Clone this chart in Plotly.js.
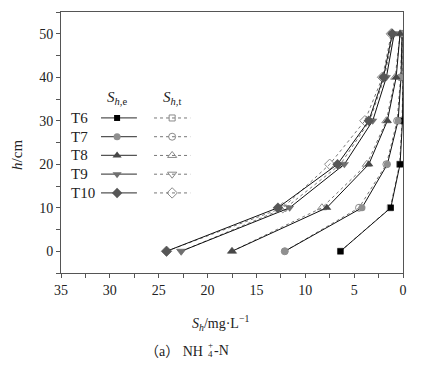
<!DOCTYPE html>
<html>
<head>
<meta charset="utf-8">
<script src="https://cdn.plot.ly/plotly-3.0.1.min.js"></script>
<style>html,body{margin:0;padding:0;background:#fff;}#chart{width:430px;height:373px;}</style>
</head>
<body>
<div id="chart"></div>
<script>
// ---- data ----
var depths = [0, 10, 20, 30, 40, 50];
var seriesNames = ["T6", "T7", "T8", "T9", "T10"];
var expT6  = [6.4, 1.25, 0.3, 0.05, 0.0, 0.0];
var expT7  = [12.1, 4.2, 1.6, 0.5, 0.2, 0.1];
var expT8  = [17.5, 7.8, 3.5, 1.6, 0.7, 0.3];
var expT9  = [22.7, 11.6, 6.0, 3.1, 1.7, 0.9];
var expT10 = [24.2, 12.8, 6.7, 3.5, 2.0, 1.1];
var theoT6  = [6.4, 1.3, 0.35, 0.1, 0.0, 0.0];
var theoT7  = [12.1, 4.5, 1.7, 0.6, 0.25, 0.1];
var theoT8  = [17.5, 8.3, 3.7, 1.7, 0.8, 0.3];
var theoT9  = [22.7, 12.0, 6.4, 3.4, 1.9, 1.0];
var theoT10 = [24.2, 12.3, 7.5, 3.9, 2.1, 1.2];
var xTickVals = [35, 30, 25, 20, 15, 10, 5, 0];
var yTickVals = [0, 10, 20, 30, 40, 50];

// ---- styles ----
var expData = [expT6, expT7, expT8, expT9, expT10];
var theoData = [theoT6, theoT7, theoT8, theoT9, theoT10];
var fillColors = ["#000000", "#8f8f8f", "#474747", "#6f6f6f", "#575757"];
var symFilled = ["square", "circle", "triangle-up", "triangle-down", "diamond"];
var symOpen = ["square-open", "circle-open", "triangle-up-open", "triangle-down-open", "diamond-open"];
var mSize = [6, 7, 8, 8, 8];
var FONT = '"Liberation Serif", "Times New Roman", Times, serif';

var traces = [];
for (var i = 0; i < seriesNames.length; i++) {
  traces.push({
    x: theoData[i], y: depths, type: "scatter", mode: "lines+markers",
    name: seriesNames[i] + " t", showlegend: false, hoverinfo: "skip",
    line: {color: "#777777", width: 1, dash: "dot"},
    marker: {symbol: symOpen[i], size: mSize[i], color: "#8a8a8a", line: {width: 1, color: "#8a8a8a"}}
  });
}
for (var i = 0; i < seriesNames.length; i++) {
  traces.push({
    x: expData[i], y: depths, type: "scatter", mode: "lines+markers",
    name: seriesNames[i], showlegend: false, hoverinfo: "skip",
    line: {color: "#111111", width: 1},
    marker: {symbol: symFilled[i], size: mSize[i], color: fillColors[i], line: {width: 0}}
  });
}

// ---- custom legend on helper axes (paper fraction coordinates) ----
var legE = [0.117, 0.164, 0.222];
var legT = [0.272, 0.325, 0.378];
var rowY = function (k) { return 0.594 - k * 0.0718; };
var annotations = [];
for (var k = 0; k < seriesNames.length; k++) {
  var yy = rowY(k);
  traces.push({
    x: [legE[0], legE[2]], y: [yy, yy], xaxis: "x2", yaxis: "y2", type: "scatter", mode: "lines",
    showlegend: false, hoverinfo: "skip", cliponaxis: false,
    line: {color: "#555555", width: 1.3}
  });
  traces.push({
    x: [legE[1]], y: [yy], xaxis: "x2", yaxis: "y2", type: "scatter", mode: "markers",
    showlegend: false, hoverinfo: "skip", cliponaxis: false,
    marker: {symbol: symFilled[k], size: mSize[k], color: fillColors[k], line: {width: 0}}
  });
  traces.push({
    x: [legT[0], legT[2]], y: [yy, yy], xaxis: "x2", yaxis: "y2", type: "scatter", mode: "lines",
    showlegend: false, hoverinfo: "skip", cliponaxis: false,
    line: {color: "#777777", width: 1, dash: "dot"}
  });
  traces.push({
    x: [legT[1]], y: [yy], xaxis: "x2", yaxis: "y2", type: "scatter", mode: "markers",
    showlegend: false, hoverinfo: "skip", cliponaxis: false,
    marker: {symbol: symOpen[k], size: mSize[k], color: "#8a8a8a", line: {width: 1, color: "#8a8a8a"}}
  });
  annotations.push({
    text: seriesNames[k], xref: "paper", yref: "paper", x: 0.024, y: yy,
    xanchor: "left", yanchor: "middle", showarrow: false,
    font: {family: FONT, size: 15, color: "#222"}
  });
}
annotations.push({
  text: "<i>S</i><sub><i>h</i>,e</sub>", xref: "paper", yref: "paper", x: legE[1], y: 0.672,
  xanchor: "center", yanchor: "middle", showarrow: false, font: {family: FONT, size: 15, color: "#222"}
});
annotations.push({
  text: "<i>S</i><sub><i>h</i>,t</sub>", xref: "paper", yref: "paper", x: legT[1], y: 0.672,
  xanchor: "center", yanchor: "middle", showarrow: false, font: {family: FONT, size: 15, color: "#222"}
});
// y-axis title
annotations.push({
  text: "<i>h</i>/cm", xref: "paper", yref: "paper", x: -0.129, y: 0.452, textangle: -90,
  xanchor: "center", yanchor: "middle", showarrow: false, font: {family: FONT, size: 15, color: "#222"}
});
// x-axis title
annotations.push({
  text: "<i>S</i><sub><i>h</i></sub>/mg·L<sup>−1</sup>", xref: "paper", yref: "paper", x: 0.465, y: -0.19,
  xanchor: "center", yanchor: "middle", showarrow: false, font: {family: FONT, size: 14, color: "#222"}
});
// caption
var CJK = '"Noto Sans CJK SC"';
annotations.push({
  text: '<span style="font-family:' + "'Noto Sans CJK SC'" + '">（</span>a<span style="font-family:' + "'Noto Sans CJK SC'" + '">）</span> NH',
  xref: "paper", yref: "paper", x: 0.422, y: -0.296,
  xanchor: "right", yanchor: "middle", showarrow: false, font: {family: FONT, size: 14, color: "#222"}
});
annotations.push({
  text: "+", xref: "paper", yref: "paper", x: 0.423, y: -0.275,
  xanchor: "left", yanchor: "middle", showarrow: false, font: {family: FONT, size: 9, color: "#222"}
});
annotations.push({
  text: "4", xref: "paper", yref: "paper", x: 0.423, y: -0.312,
  xanchor: "left", yanchor: "middle", showarrow: false, font: {family: FONT, size: 9, color: "#222"}
});
annotations.push({
  text: "-N", xref: "paper", yref: "paper", x: 0.441, y: -0.296,
  xanchor: "left", yanchor: "middle", showarrow: false, font: {family: FONT, size: 14, color: "#222"}
});

var axisCommon = {
  showgrid: false, zeroline: false, showline: true, linecolor: "#555", linewidth: 1,
  mirror: true, ticks: "outside", ticklen: 4, tickcolor: "#555",
  tickfont: {family: FONT, size: 14, color: "#222"}
};

var layout = {
  width: 430, height: 373,
  margin: {l: 61, r: 27, t: 12, b: 100},
  paper_bgcolor: "#fff", plot_bgcolor: "#fff",
  showlegend: false,
  font: {family: FONT},
  xaxis: Object.assign({}, axisCommon, {
    range: [35, 0], tickvals: xTickVals, ticktext: xTickVals.map(String),
    minor: {dtick: 2.5, tick0: 0, ticks: "outside", ticklen: 4, tickcolor: "#555", showgrid: false}
  }),
  yaxis: Object.assign({}, axisCommon, {
    range: [-5, 55], tickvals: yTickVals, ticktext: yTickVals.map(String),
    minor: {dtick: 5, tick0: 0, ticks: "outside", ticklen: 4, tickcolor: "#555", showgrid: false}
  }),
  xaxis2: {domain: [0, 1], range: [0, 1], visible: false, overlaying: "x", fixedrange: true, anchor: "y2"},
  yaxis2: {domain: [0, 1], range: [0, 1], visible: false, overlaying: "y", fixedrange: true, anchor: "x2"},
  annotations: annotations
};

Plotly.newPlot("chart", traces, layout, {displayModeBar: false, staticPlot: true});
</script>
</body>
</html>
